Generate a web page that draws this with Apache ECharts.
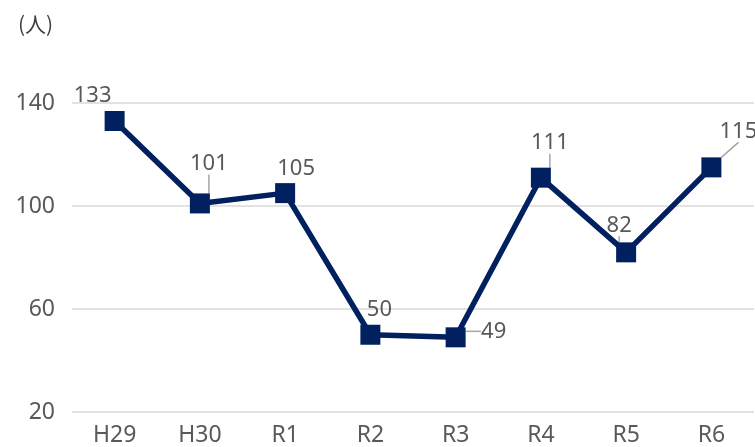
<!DOCTYPE html>
<html><head><meta charset="utf-8">
<script src="https://cdn.jsdelivr.net/npm/echarts@6/dist/echarts.min.js"></script>
<style>html,body{margin:0;padding:0;background:#fff}#c{width:755px;height:447px}</style>
</head><body><div id="c"></div>
<script>
const categories = ['H29','H30','R1','R2','R3','R4','R5','R6'];
const values = [133, 101, 105, 50, 49, 111, 82, 115];
const yTicks = [20, 60, 100, 140];
const unitLabel = '(人)';
// label displacement and leader visibility (style)
const labelShift = [[-22,0],[9,-15],[11,1],[9,0],[38,19],[9,-10],[-7,-2],[27,-11]];
const showLeader = [false, true, false, false, true, true, true, true];
const font = '"Noto Sans", "Open Sans", "Noto Sans CJK JP", sans-serif';
const seriesData = values.map((v, i) => ({value: v, labelLine: {show: showLeader[i]}}));
const chart = echarts.init(document.getElementById('c'));
chart.setOption({
  animation: false,
  grid: {left: 72, right: 1, top: 103, bottom: 34},
  title: {text: unitLabel, left: 13, top: 9, textStyle: {fontFamily: '"Noto Sans CJK JP", sans-serif', fontSize: 21, fontWeight: 'normal', color: '#404040'}},
  xAxis: {type: 'category', data: categories, boundaryGap: true,
    axisLine: {show: false}, axisTick: {show: false},
    axisLabel: {color: '#595959', fontSize: 23, fontFamily: font, margin: 12}},
  yAxis: {type: 'value', min: yTicks[0], max: yTicks[yTicks.length-1], interval: 40,
    axisLine: {show: false}, axisTick: {show: false},
    splitLine: {lineStyle: {color: '#d9d9d9', width: 1.5}},
    axisLabel: {color: '#595959', fontSize: 23, fontFamily: font, margin: 17}},
  series: [{
    type: 'line', data: seriesData,
    symbol: 'rect', symbolSize: 20,
    lineStyle: {color: '#002060', width: 5.5},
    itemStyle: {color: '#002060'},
    label: {show: true, position: 'top', color: '#595959', fontSize: 22, fontFamily: font},
    labelLine: {show: true, lineStyle: {color: '#a6a6a6', width: 1.5}},
    labelLayout: function (p) {
      const s = labelShift[p.dataIndex];
      return {dx: s[0], dy: s[1] + 1};
    }
  }]
});
</script></body></html>
